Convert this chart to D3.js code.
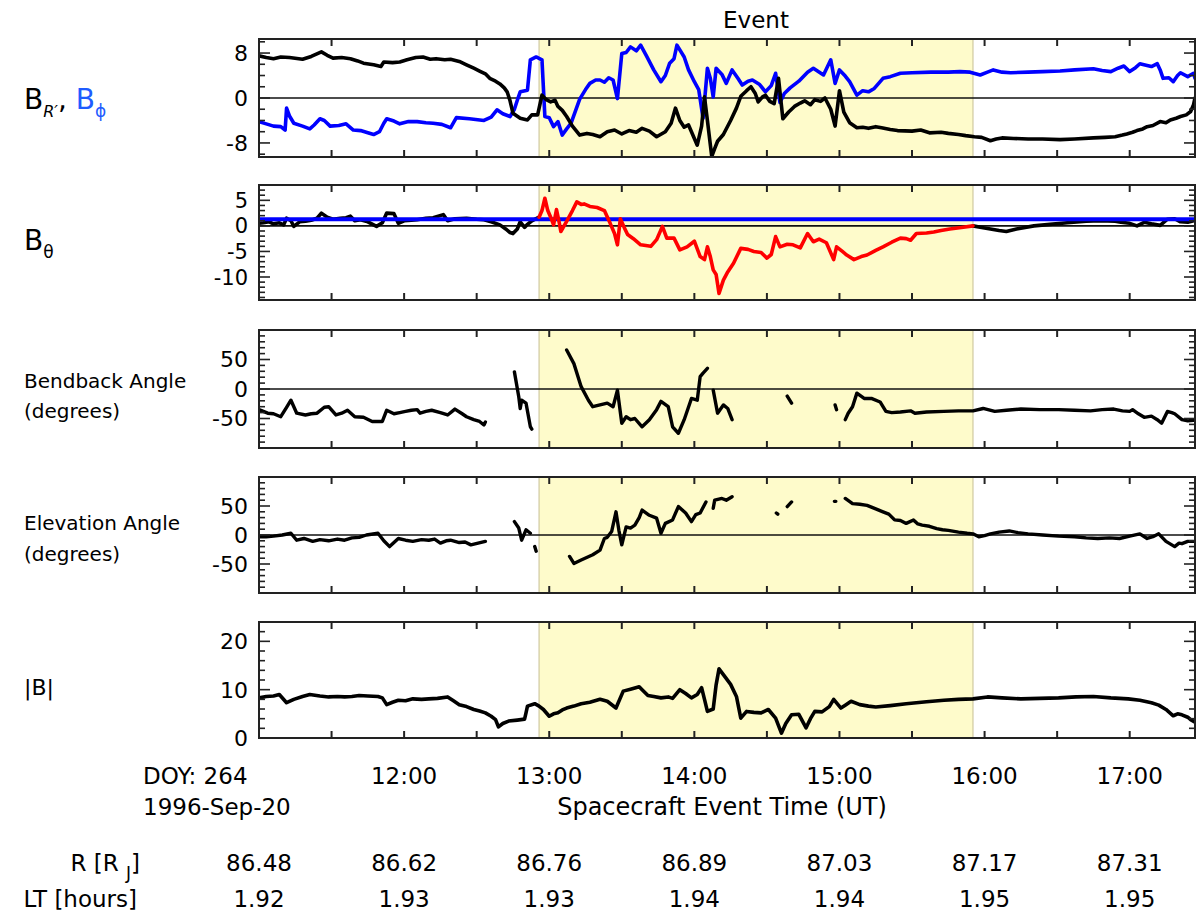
<!DOCTYPE html>
<html><head><meta charset="utf-8">
<script src="https://cdn.jsdelivr.net/npm/d3@7"></script>
<style>
body{margin:0;background:#fff}
svg{display:block}
text{font-family:"DejaVu Sans",sans-serif;fill:#000}
</style>
</head><body>
<svg id="chart" width="1198" height="917"></svg>
<script>
// ---------------- DATA ----------------
const eventStart = 12.93, eventEnd = 15.92;
const timeDomain = [11.0, 17.45];
const hourTicks = [12, 13, 14, 15, 16, 17];
const hourTickLabels = ["12:00", "13:00", "14:00", "15:00", "16:00", "17:00"];
const rowHours = [11, 12, 13, 14, 15, 16, 17];
const rValues = ["86.48", "86.62", "86.76", "86.89", "87.03", "87.17", "87.31"];
const ltValues = ["1.92", "1.93", "1.93", "1.94", "1.94", "1.95", "1.95"];

const brData = [[11.0,7.5],[11.05,7.2],[11.1,7.0],[11.15,7.3],[11.21,7.2],[11.3,6.9],[11.36,7.4],[11.43,8.2],[11.47,7.6],[11.51,7.1],[11.57,7.2],[11.63,7.0],[11.68,6.6],[11.72,6.2],[11.79,5.9],[11.84,5.6],[11.86,6.4],[11.92,6.3],[11.97,6.4],[12.02,6.8],[12.08,7.2],[12.13,7.3],[12.18,6.9],[12.22,7.0],[12.28,6.8],[12.32,6.9],[12.38,6.5],[12.43,5.9],[12.48,5.3],[12.52,4.8],[12.56,4.3],[12.59,3.5],[12.63,3.0],[12.66,2.5],[12.69,1.8],[12.71,1.1],[12.73,-0.5],[12.75,-2.7],[12.8,-3.6],[12.85,-3.9],[12.88,-3.0],[12.92,-3.0],[12.95,0.5],[12.98,-0.3],[13.01,-0.7],[13.04,-0.4],[13.06,-1.5],[13.09,-2.2],[13.12,-3.3],[13.16,-5.0],[13.21,-6.6],[13.26,-6.3],[13.3,-6.5],[13.35,-6.9],[13.4,-6.0],[13.45,-5.7],[13.5,-6.4],[13.55,-5.8],[13.6,-6.1],[13.64,-5.4],[13.69,-5.9],[13.74,-6.9],[13.8,-6.0],[13.84,-4.5],[13.87,-1.8],[13.9,-4.0],[13.93,-5.2],[13.96,-4.8],[14.0,-7.2],[14.02,-8.4],[14.05,-5.0],[14.07,0.2],[14.09,-4.0],[14.12,-10.4],[14.14,-9.0],[14.16,-7.7],[14.2,-6.5],[14.25,-4.0],[14.29,-1.8],[14.32,0.3],[14.36,1.3],[14.39,2.0],[14.42,0.8],[14.44,-0.7],[14.47,0.2],[14.49,0.5],[14.52,-0.6],[14.55,-1.0],[14.58,3.5],[14.61,-3.7],[14.65,-2.5],[14.69,-1.5],[14.73,-0.9],[14.76,-0.5],[14.8,-1.2],[14.83,-0.3],[14.87,-0.6],[14.9,0.0],[14.94,-2.0],[14.97,-5.0],[15.0,1.3],[15.03,-2.5],[15.07,-4.4],[15.12,-5.3],[15.16,-5.2],[15.2,-5.4],[15.25,-5.1],[15.29,-5.3],[15.35,-5.6],[15.4,-5.8],[15.5,-5.9],[15.56,-5.7],[15.62,-6.2],[15.7,-6.1],[15.75,-6.3],[15.82,-6.5],[15.87,-6.7],[15.93,-6.9],[15.98,-7.0],[16.04,-7.6],[16.08,-7.3],[16.12,-7.1],[16.2,-7.2],[16.3,-7.3],[16.4,-7.3],[16.52,-7.4],[16.62,-7.3],[16.75,-7.1],[16.83,-7.0],[16.9,-6.9],[16.95,-6.6],[16.98,-6.4],[17.02,-6.1],[17.05,-5.8],[17.09,-5.5],[17.12,-5.1],[17.16,-4.9],[17.21,-4.2],[17.25,-4.4],[17.28,-3.9],[17.32,-3.6],[17.35,-3.3],[17.39,-3.0],[17.42,-2.4],[17.44,-1.2],[17.45,0.0]];

const bphiData = [[11.0,-4.2],[11.05,-4.6],[11.1,-5.0],[11.15,-5.1],[11.18,-5.7],[11.19,-1.8],[11.21,-3.2],[11.24,-4.5],[11.3,-5.0],[11.35,-5.5],[11.38,-4.8],[11.42,-3.7],[11.45,-4.0],[11.49,-5.0],[11.55,-4.9],[11.6,-4.6],[11.65,-5.7],[11.7,-5.8],[11.75,-6.2],[11.79,-6.5],[11.83,-6.0],[11.86,-4.5],[11.88,-3.7],[11.93,-4.1],[11.97,-4.6],[12.03,-4.2],[12.09,-4.2],[12.15,-4.4],[12.2,-4.5],[12.26,-4.7],[12.32,-5.3],[12.36,-3.5],[12.45,-3.7],[12.55,-4.0],[12.6,-3.4],[12.64,-2.1],[12.68,-2.8],[12.73,-3.3],[12.76,-2.0],[12.78,-0.4],[12.8,1.1],[12.85,1.4],[12.87,6.8],[12.91,7.3],[12.95,6.8],[12.97,-3.3],[13.0,-3.5],[13.03,-5.1],[13.06,-4.2],[13.09,-6.6],[13.12,-5.5],[13.15,-4.5],[13.21,-0.2],[13.25,1.5],[13.28,2.6],[13.32,3.2],[13.35,3.2],[13.38,2.8],[13.41,3.6],[13.44,3.2],[13.47,-0.1],[13.5,7.9],[13.53,8.1],[13.56,9.1],[13.6,8.4],[13.63,9.4],[13.67,7.5],[13.72,5.0],[13.77,2.9],[13.8,4.0],[13.83,6.2],[13.86,7.0],[13.88,9.4],[13.93,7.3],[13.96,5.0],[14.0,2.9],[14.03,1.5],[14.06,-3.6],[14.09,5.3],[14.11,3.5],[14.13,0.2],[14.15,5.3],[14.19,4.2],[14.22,2.6],[14.26,5.0],[14.3,3.5],[14.33,2.3],[14.37,3.0],[14.4,3.2],[14.45,2.4],[14.49,1.1],[14.53,2.2],[14.56,4.4],[14.59,-0.8],[14.62,0.8],[14.66,1.8],[14.72,3.0],[14.78,4.6],[14.82,5.3],[14.89,4.1],[14.94,6.8],[14.97,2.6],[15.0,5.0],[15.04,3.9],[15.07,2.9],[15.12,0.5],[15.16,1.3],[15.2,1.1],[15.24,1.7],[15.3,3.5],[15.35,3.8],[15.42,4.4],[15.5,4.5],[15.63,4.6],[15.75,4.6],[15.83,4.7],[15.9,4.6],[15.97,4.1],[16.02,4.6],[16.06,5.0],[16.12,4.6],[16.18,4.5],[16.3,4.6],[16.4,4.7],[16.52,4.8],[16.62,5.0],[16.75,5.2],[16.81,4.9],[16.87,4.7],[16.92,5.3],[16.96,5.7],[17.0,4.7],[17.04,5.4],[17.07,6.1],[17.12,5.8],[17.15,5.6],[17.19,6.1],[17.21,5.0],[17.23,3.5],[17.27,3.6],[17.3,2.9],[17.33,4.0],[17.35,4.5],[17.4,3.8],[17.44,4.4],[17.45,3.5]];

const bthetaModel = 1.3;
const bthetaData = [[11.0,0.5],[11.03,0.6],[11.07,0.8],[11.1,0.4],[11.14,0.6],[11.17,0.2],[11.19,1.5],[11.22,1.0],[11.24,-0.1],[11.28,0.8],[11.32,0.9],[11.36,1.1],[11.4,1.5],[11.43,2.5],[11.47,1.7],[11.51,1.3],[11.56,1.5],[11.6,1.6],[11.63,1.9],[11.66,1.0],[11.7,1.2],[11.75,0.8],[11.81,-0.1],[11.85,0.6],[11.88,2.5],[11.93,2.4],[11.96,0.5],[12.0,1.0],[12.05,1.1],[12.09,1.2],[12.15,1.5],[12.2,1.6],[12.27,2.2],[12.3,1.0],[12.35,1.4],[12.43,1.5],[12.5,1.3],[12.55,1.2],[12.6,0.8],[12.66,0.2],[12.7,-0.6],[12.73,-1.3],[12.75,-1.5],[12.78,-0.6],[12.8,0.8],[12.83,-0.3],[12.85,0.3],[12.88,1.0],[12.93,1.7],[12.95,3.0],[12.97,5.4],[12.99,3.0],[13.01,1.7],[13.03,0.2],[13.05,3.2],[13.07,0.5],[13.08,-1.1],[13.12,0.9],[13.16,3.0],[13.19,4.7],[13.22,4.2],[13.24,4.3],[13.28,3.8],[13.33,3.6],[13.38,3.0],[13.42,0.5],[13.45,-1.5],[13.47,-3.7],[13.49,1.4],[13.52,-0.5],[13.54,-1.7],[13.58,-2.5],[13.63,-3.7],[13.7,-4.0],[13.74,-2.7],[13.78,-0.1],[13.81,-2.4],[13.86,-2.4],[13.9,-4.7],[13.95,-4.1],[14.0,-3.0],[14.04,-6.0],[14.07,-6.6],[14.09,-4.1],[14.11,-6.0],[14.13,-8.6],[14.15,-9.5],[14.17,-13.2],[14.2,-10.6],[14.23,-9.0],[14.27,-7.3],[14.32,-4.4],[14.37,-4.6],[14.41,-5.0],[14.46,-5.2],[14.5,-6.3],[14.53,-5.6],[14.56,-2.1],[14.59,-4.1],[14.64,-3.6],[14.68,-3.7],[14.73,-4.3],[14.78,-1.5],[14.82,-3.1],[14.86,-2.6],[14.91,-3.3],[14.96,-6.6],[14.98,-4.1],[15.02,-5.0],[15.05,-5.7],[15.1,-6.6],[15.15,-6.0],[15.19,-5.7],[15.25,-4.8],[15.3,-4.1],[15.36,-3.2],[15.42,-2.4],[15.46,-2.5],[15.49,-2.8],[15.53,-1.5],[15.6,-1.4],[15.65,-1.2],[15.7,-0.9],[15.76,-0.6],[15.84,-0.3],[15.92,0.0],[15.98,-0.3],[16.04,-0.6],[16.1,-0.9],[16.15,-1.1],[16.22,-0.6],[16.34,0.0],[16.45,0.3],[16.57,0.6],[16.7,0.9],[16.8,1.0],[16.9,0.9],[16.94,0.7],[17.0,0.5],[17.05,0.0],[17.1,0.7],[17.15,0.4],[17.21,0.1],[17.26,1.3],[17.31,1.4],[17.35,0.8],[17.4,0.7],[17.44,1.0],[17.45,1.3]];

// null = data gap
const bendbackData = [[11.0,-35],[11.06,-41],[11.1,-42],[11.15,-47],[11.19,-31],[11.22,-19],[11.26,-41],[11.32,-44],[11.36,-42],[11.4,-41],[11.45,-31],[11.48,-30],[11.53,-44],[11.57,-41],[11.61,-36],[11.66,-47],[11.72,-48],[11.78,-55],[11.85,-55],[11.88,-36],[11.93,-42],[11.97,-40],[12.01,-38],[12.05,-36],[12.09,-35],[12.11,-41],[12.15,-38],[12.19,-36],[12.25,-40],[12.3,-44],[12.35,-34],[12.4,-42],[12.43,-47],[12.48,-52],[12.52,-55],[12.55,-61],[12.56,-56],[12.6,null],
[12.76,29],[12.79,-13],[12.8,-33],[12.81,-19],[12.84,-24],[12.87,-64],[12.88,-68],[12.89,null],
[13.12,66],[13.17,43],[13.22,4],[13.27,-19],[13.3,-30],[13.35,-27],[13.4,-24],[13.44,-30],[13.47,-2],[13.5,-58],[13.53,-47],[13.56,-52],[13.59,-50],[13.64,-64],[13.69,-52],[13.74,-35],[13.77,-21],[13.82,-30],[13.85,-64],[13.89,-75],[13.93,-52],[13.98,-16],[14.02,-19],[14.04,21],[14.06,27],[14.09,35],[14.11,null],
[14.13,-2],[14.16,-41],[14.2,-27],[14.23,-33],[14.26,-52],[14.27,null],
[14.64,-12],[14.67,-24],[14.68,null],
[14.97,-27],[14.98,-35],[14.99,null],
[15.04,-52],[15.06,-41],[15.09,-30],[15.12,-7],[15.17,-16],[15.22,-16],[15.28,-22],[15.32,-38],[15.36,-40],[15.42,-39],[15.49,-37],[15.52,-41],[15.6,-39],[15.72,-38],[15.82,-37],[15.92,-37],[15.99,-33],[16.07,-38],[16.15,-36],[16.25,-34],[16.38,-35],[16.51,-35],[16.62,-36],[16.73,-37],[16.81,-35],[16.89,-34],[16.95,-37],[17.0,-38],[17.02,-35],[17.06,-42],[17.1,-48],[17.15,-46],[17.19,-52],[17.22,-58],[17.26,-38],[17.29,-40],[17.31,-42],[17.36,-52],[17.4,-54],[17.44,-53]];

const elevationData = [[11.0,-3],[11.05,-3],[11.1,-2],[11.16,0],[11.22,3],[11.26,-9],[11.31,-6],[11.37,-11],[11.42,-8],[11.48,-10],[11.54,-7],[11.59,-9],[11.64,-5],[11.69,-4],[11.74,0],[11.82,3],[11.86,-10],[11.9,-20],[11.93,-13],[11.96,-6],[12.01,-9],[12.06,-11],[12.12,-8],[12.17,-9],[12.21,-7],[12.25,-14],[12.29,-10],[12.32,-9],[12.38,-13],[12.42,-12],[12.46,-17],[12.51,-14],[12.56,-11],[12.58,null],
[12.76,23],[12.79,12],[12.81,-9],[12.84,9],[12.87,3],[12.88,null],
[12.9,-20],[12.91,-28],[12.92,null],
[13.14,-37],[13.17,-49],[13.22,-43],[13.3,-34],[13.35,-26],[13.38,-6],[13.4,-4],[13.43,6],[13.46,40],[13.48,8],[13.5,-17],[13.53,14],[13.56,12],[13.59,17],[13.62,30],[13.64,43],[13.69,34],[13.74,29],[13.77,3],[13.8,20],[13.85,26],[13.89,49],[13.94,38],[13.98,23],[14.01,35],[14.04,38],[14.08,57],[14.1,null],
[14.13,46],[14.14,60],[14.19,63],[14.22,60],[14.26,66],[14.27,null],
[14.565,38],[14.575,36],[14.58,null],
[14.64,49],[14.67,57],[14.68,null],
[14.965,58],[14.975,58],[14.98,null],
[15.04,63],[15.09,54],[15.14,53],[15.19,51],[15.25,45],[15.3,40],[15.34,36],[15.38,26],[15.42,25],[15.46,20],[15.51,26],[15.54,19],[15.57,17],[15.62,15],[15.67,11],[15.71,9],[15.75,8],[15.82,5],[15.88,3],[15.92,2],[15.96,-3],[16.0,-1],[16.04,2],[16.1,5],[16.17,7],[16.23,4],[16.3,2],[16.4,0],[16.51,-2],[16.62,-3],[16.7,-5],[16.78,-6],[16.86,-5],[16.93,-6],[17.0,-2],[17.07,2],[17.12,-6],[17.16,-3],[17.2,2],[17.25,-11],[17.31,-20],[17.34,-14],[17.36,-15],[17.4,-11],[17.44,-11]];

const bmagData = [[11.0,8.3],[11.05,8.6],[11.1,8.7],[11.14,9.0],[11.19,7.3],[11.24,8.0],[11.3,8.6],[11.35,9.0],[11.42,8.7],[11.48,8.5],[11.54,8.6],[11.59,8.5],[11.64,8.6],[11.69,8.8],[11.75,8.7],[11.82,8.6],[11.85,8.3],[11.88,6.9],[11.92,7.4],[11.96,7.8],[12.01,7.7],[12.06,8.1],[12.12,8.0],[12.17,8.1],[12.23,8.2],[12.3,8.5],[12.34,7.7],[12.38,6.9],[12.43,6.5],[12.48,5.9],[12.52,5.6],[12.56,5.2],[12.6,4.5],[12.63,3.8],[12.65,2.3],[12.68,3.0],[12.72,3.5],[12.78,3.7],[12.83,3.9],[12.84,5.2],[12.85,6.6],[12.9,7.1],[12.93,6.6],[12.96,5.9],[13.0,4.5],[13.03,5.0],[13.06,5.2],[13.09,5.8],[13.12,6.2],[13.17,6.6],[13.22,7.1],[13.28,7.4],[13.35,8.0],[13.4,7.6],[13.46,6.2],[13.51,9.7],[13.56,10.1],[13.62,10.6],[13.64,10.0],[13.68,8.8],[13.72,8.6],[13.77,8.3],[13.82,8.5],[13.85,8.2],[13.9,10.0],[13.94,9.2],[13.98,8.3],[14.02,9.0],[14.05,10.4],[14.07,8.0],[14.09,5.5],[14.13,6.0],[14.15,11.0],[14.17,14.3],[14.2,13.1],[14.25,11.1],[14.29,8.6],[14.32,4.1],[14.36,5.5],[14.41,5.3],[14.46,5.2],[14.51,5.9],[14.56,4.1],[14.6,1.0],[14.63,3.0],[14.67,4.8],[14.72,4.9],[14.77,2.1],[14.8,4.0],[14.83,5.5],[14.88,5.4],[14.93,6.5],[14.96,8.0],[15.01,6.2],[15.04,6.8],[15.08,7.6],[15.14,6.9],[15.2,6.6],[15.25,6.4],[15.35,6.7],[15.46,7.1],[15.6,7.5],[15.72,7.8],[15.82,8.0],[15.92,8.1],[16.02,8.5],[16.12,8.3],[16.25,8.1],[16.38,8.2],[16.51,8.3],[16.63,8.5],[16.75,8.6],[16.87,8.3],[16.99,8.1],[17.07,7.8],[17.15,7.3],[17.2,6.8],[17.25,5.9],[17.3,4.6],[17.33,5.0],[17.36,4.8],[17.4,4.3],[17.42,3.8],[17.46,3.1]];

// ---------------- LAYOUT ----------------
const svg = d3.select("#chart");
const L = 259, R = 1195;
const x = d3.scaleLinear().domain(timeDomain).range([L, R]);

const panels = [
  {top: 39, bottom: 157, domain: [-10.5, 10.5], major: [-8, 0, 8], minorStep: 2, zero: true, fs: 22},
  {top: 185, bottom: 300, domain: [-14.5, 8], major: [-10, -5, 0, 5], minorStep: 1, zero: true, fs: 21},
  {top: 330, bottom: 448, domain: [-100, 100], major: [-50, 0, 50], minorStep: 10, zero: true, fs: 22},
  {top: 477, bottom: 593, domain: [-100, 100], major: [-50, 0, 50], minorStep: 10, zero: true, fs: 22},
  {top: 622, bottom: 738, domain: [0, 24], major: [0, 10, 20], minorStep: 2, zero: false, fs: 22}
];
panels.forEach(p => { p.y = d3.scaleLinear().domain(p.domain).range([p.bottom, p.top]); });

const halfHours = d3.range(11.5, 17.45, 0.5);

panels.forEach((p, i) => {
  const g = svg.append("g");
  const clipId = "clip" + i;
  svg.append("clipPath").attr("id", clipId).append("rect")
    .attr("x", L).attr("y", p.top).attr("width", R - L).attr("height", p.bottom - p.top);
  g.append("rect").attr("x", x(eventStart)).attr("y", p.top)
    .attr("width", x(eventEnd) - x(eventStart)).attr("height", p.bottom - p.top)
    .attr("fill", "#fefbcb");
  [eventStart, eventEnd].forEach(t => g.append("line")
    .attr("x1", x(t)).attr("x2", x(t)).attr("y1", p.top).attr("y2", p.bottom)
    .attr("stroke", "#cfc9a0").attr("stroke-width", 1.2));
  if (p.zero) {
    g.append("line").attr("x1", L).attr("x2", R).attr("y1", p.y(0)).attr("y2", p.y(0))
      .attr("stroke", "#111").attr("stroke-width", 1.6);
  }
  p.g = g.append("g").attr("clip-path", `url(#${clipId})`);
});

function drawLine(p, data, color, width) {
  const line = d3.line().defined(d => d[1] !== null).x(d => x(d[0])).y(d => p.y(d[1]));
  p.g.append("path").datum(data).attr("d", line).attr("fill", "none")
    .attr("stroke", color).attr("stroke-width", width)
    .attr("stroke-linejoin", "round").attr("stroke-linecap", "round");
}

drawLine(panels[0], bphiData, "#0000ff", 3.6);
drawLine(panels[0], brData, "#000", 3.6);
drawLine(panels[1], bthetaData.filter(d => d[0] <= eventStart), "#000", 3.6);
drawLine(panels[1], bthetaData.filter(d => d[0] >= eventEnd), "#000", 3.6);
drawLine(panels[1], [[timeDomain[0], bthetaModel], [timeDomain[1], bthetaModel]], "#0000ff", 4);
drawLine(panels[1], bthetaData.filter(d => d[0] >= eventStart && d[0] <= eventEnd), "#ff0000", 3.6);
drawLine(panels[2], bendbackData, "#000", 3.4);
drawLine(panels[3], elevationData, "#000", 3.4);
drawLine(panels[4], bmagData, "#000", 3.6);

panels.forEach(p => {
  const g = svg.append("g").attr("stroke", "#222");
  g.append("rect").attr("x", L).attr("y", p.top).attr("width", R - L).attr("height", p.bottom - p.top)
    .attr("fill", "none").attr("stroke-width", 2);
  halfHours.forEach(t => {
    g.append("line").attr("x1", x(t)).attr("x2", x(t)).attr("y1", p.top).attr("y2", p.top + 7).attr("stroke-width", 2);
    g.append("line").attr("x1", x(t)).attr("x2", x(t)).attr("y1", p.bottom).attr("y2", p.bottom - 7).attr("stroke-width", 2);
  });
  const minors = d3.range(Math.ceil(p.domain[0] / p.minorStep) * p.minorStep, p.domain[1] + 1e-9, p.minorStep);
  minors.forEach(v => {
    const isMajor = p.major.includes(v);
    const len = isMajor ? 11 : 6;
    g.append("line").attr("x1", L).attr("x2", L + len).attr("y1", p.y(v)).attr("y2", p.y(v)).attr("stroke-width", 1.6);
    g.append("line").attr("x1", R).attr("x2", R - len).attr("y1", p.y(v)).attr("y2", p.y(v)).attr("stroke-width", 1.6);
  });
  p.major.forEach(v => {
    svg.append("text").attr("x", L - 11).attr("y", p.y(v)).attr("dy", "0.36em")
      .attr("text-anchor", "end").attr("font-size", p.fs).text(v);
  });
});

// Left panel titles
const t1 = svg.append("text").attr("x", 24).attr("y", 109).attr("font-size", 28);
t1.append("tspan").text("B");
t1.append("tspan").attr("font-size", 16).attr("dy", 8).attr("font-style", "italic").text("R′");
t1.append("tspan").attr("dy", -8).text(", ");
t1.append("tspan").style("fill", "#1f5cff").text("B");
t1.append("tspan").attr("font-size", 17).attr("dy", 8).style("fill", "#1f5cff").text("ϕ");

const t2 = svg.append("text").attr("x", 24).attr("y", 250).attr("font-size", 28);
t2.append("tspan").text("B");
t2.append("tspan").attr("font-size", 17).attr("dy", 8).text("θ");

svg.append("text").attr("x", 24).attr("y", 388).attr("font-size", 20).text("Bendback Angle");
svg.append("text").attr("x", 24).attr("y", 418).attr("font-size", 20).text("(degrees)");
svg.append("text").attr("x", 24).attr("y", 530).attr("font-size", 20).text("Elevation Angle");
svg.append("text").attr("x", 24).attr("y", 561).attr("font-size", 20).text("(degrees)");
svg.append("text").attr("x", 24).attr("y", 695).attr("font-size", 22).text("|B|");

svg.append("text").attr("x", (x(eventStart) + x(eventEnd)) / 2).attr("y", 28)
  .attr("text-anchor", "middle").attr("font-size", 23).text("Event");

hourTicks.forEach((h, i) => {
  svg.append("text").attr("x", x(h)).attr("y", 784).attr("text-anchor", "middle")
    .attr("font-size", 23).text(hourTickLabels[i]);
});
svg.append("text").attr("x", 143).attr("y", 784).attr("font-size", 23).text("DOY: 264");
svg.append("text").attr("x", 143).attr("y", 815).attr("font-size", 23).text("1996-Sep-20");
svg.append("text").attr("x", 722).attr("y", 815).attr("text-anchor", "middle")
  .attr("font-size", 24).text("Spacecraft Event Time (UT)");

const rl = svg.append("text").attr("x", 140).attr("y", 871).attr("text-anchor", "end").attr("font-size", 23);
rl.append("tspan").text("R [R ");
rl.append("tspan").attr("font-size", 17).attr("dy", 8).text("J");
rl.append("tspan").attr("dy", -8).text("]");
svg.append("text").attr("x", 137).attr("y", 907).attr("text-anchor", "end").attr("font-size", 23).text("LT [hours]");
rowHours.forEach((h, i) => {
  svg.append("text").attr("x", x(h)).attr("y", 871).attr("text-anchor", "middle").attr("font-size", 23).text(rValues[i]);
  svg.append("text").attr("x", x(h)).attr("y", 907).attr("text-anchor", "middle").attr("font-size", 23).text(ltValues[i]);
});
</script>
</body></html>
